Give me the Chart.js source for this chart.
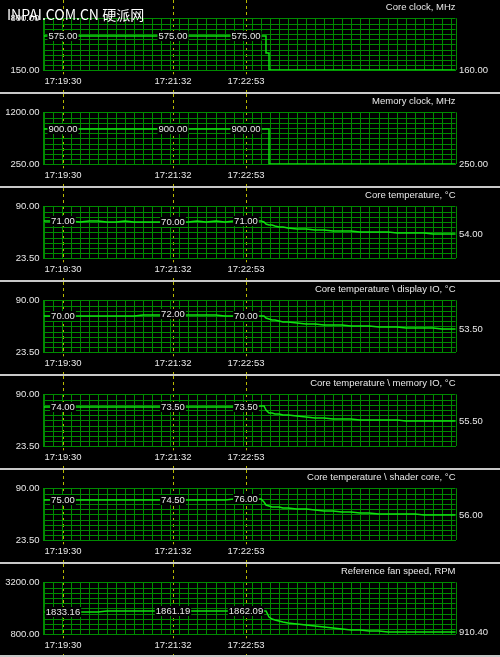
<!DOCTYPE html>
<html>
<head>
<meta charset="utf-8">
<script src="https://cdn.jsdelivr.net/npm/chart.js@4.4.0/dist/chart.umd.min.js"></script>
<style>
  body { margin: 0; background: #000; width: 500px; height: 657px; overflow: hidden; position: relative; }
  .panel { width: 500px; border-bottom: 2px solid #c8c8c8; }
  .panel canvas { display: block; }
  #mark { position: absolute; left: 7px; top: 7px; color: #fff; font: 14px "Noto Sans CJK SC", sans-serif; line-height: 14px; white-space: nowrap; }
</style>
</head>
<body>
<div id="panels"></div>
<div id="mark">INPAI.COM.CN 硬派网</div>
<script>
// seconds since 17:19:09 (left edge of the graphs)
const secs = [0, 10, 20, 21, 30, 40, 50, 60, 70, 80, 90, 100, 110, 120, 130, 140, 143,
  150, 160, 170, 180, 190, 200, 210, 220, 224, 230, 240,
  243, 246, 249, 252, 256, 260, 265, 270,
  280, 290, 300, 310, 320, 330, 340, 350, 360, 370, 380, 390, 400, 410, 420, 430, 440, 450, 455];

const markerSecs = [21, 143, 224];
const markerTimes = ['17:19:30', '17:21:32', '17:22:53'];

const coreClock = [575, 575, 575, 575,
  575, 575, 575, 575, 575, 575, 575, 575, 575, 575, 575, 575,
  575,
  575, 575, 575, 575, 575, 575, 575, 575,
  575,
  575, 575,
  575, 364, 160, 160, 160, 160, 160, 160,
  160, 160, 160, 160, 160, 160, 160, 160, 160, 160, 160, 160, 160, 160, 160, 160, 160, 160,
  160];

const memClock = [900, 900, 900, 900,
  900, 900, 900, 900, 900, 900, 900, 900, 900, 900, 900, 900,
  900,
  900, 900, 900, 900, 900, 900, 900, 900,
  900,
  900, 900,
  900, 900, 250, 250, 250, 250, 250, 250,
  250, 250, 250, 250, 250, 250, 250, 250, 250, 250, 250, 250, 250, 250, 250, 250, 250, 250,
  250];

const coreTemp = [71, 71, 71, 71,
  71, 70.5, 71, 71, 70.5, 70.5, 71, 70.5, 70, 70.5, 70, 70,
  70,
  70.5, 70.5, 71, 70.5, 71, 70.5, 71, 71,
  71,
  71, 71,
  70.5, 68, 66.5, 65.5, 64.8, 64, 63.2, 62.5,
  61.5, 60.5, 59.8, 59.2, 58.7, 58.2, 57.8, 57.5, 57.2, 56.9, 56.6, 56.3, 56, 55.8, 55.6, 55.2, 54.8, 54.3,
  54];

const displayIO = [70, 70, 70, 70,
  70, 70, 70.5, 70.5, 70.5, 70.5, 70.5, 70.5, 71, 71, 71.5, 71.5,
  72,
  71.5, 71.5, 71, 71, 71, 70.5, 70.5, 70,
  70,
  70, 70,
  69.5, 67, 66, 65.2, 64.5, 63.5, 62.8, 62.2,
  61, 60.2, 59.6, 59, 58.6, 58.1, 57.6, 57, 56.5, 56.1, 55.8, 55.4, 55.1, 54.8, 54.5, 54.2, 53.9, 53.7,
  53.5];

const memoryIO = [74, 74, 74, 74,
  74, 73.5, 74, 73.5, 74, 73.5, 73.5, 74, 73.5, 73.5, 74, 73.5,
  73.5,
  73.5, 74, 73.5, 73.5, 74, 73.5, 73.5, 73.5,
  73.5,
  73.5, 75.5,
  75, 70, 66.5, 65.5, 64.8, 64.2, 63.6, 63,
  62, 61, 59.8, 59.2, 58.7, 58.3, 57.9, 57.6, 57.3, 57, 56.8, 56.5, 56.3, 56.1, 56, 55.8, 55.7, 55.6,
  55.5];

const shaderCore = [75, 75, 75, 75,
  75, 75, 74.5, 75, 74.5, 74.5, 75, 74.5, 74.5, 74.5, 74.5, 74.5,
  74.5,
  75, 75, 75.5, 75, 75.5, 75.5, 76, 76,
  76,
  76, 76,
  73, 68.5, 67.5, 66.5, 66, 65.5, 65, 64.5,
  63.8, 63, 62.2, 61.3, 60.5, 59.8, 59.2, 58.6, 58.1, 57.7, 57.4, 57.1, 56.8, 56.5, 56.3, 56.2, 56.1, 56,
  56];

const fanSpeed = [1833.16, 1833.16, 1833.16, 1833.16,
  1833, 1840, 1845, 1850, 1855, 1855, 1858, 1860, 1860, 1861, 1861, 1861,
  1861.19,
  1861, 1861, 1862, 1862, 1862, 1862, 1862, 1862,
  1862.09,
  1862, 1862,
  1862, 1862, 1600, 1520, 1470, 1410, 1360, 1320,
  1270, 1240, 1200, 1130, 1090, 1040, 1010, 985, 960, 940, 920, 905, 900, 900, 900, 900, 905, 910,
  910.4];

const titles = ['Core clock, MHz', 'Memory clock, MHz', 'Core temperature, °C',
  'Core temperature \\ display IO, °C', 'Core temperature \\ memory IO, °C',
  'Core temperature \\ shader core, °C', 'Reference fan speed, RPM'];
const series = [coreClock, memClock, coreTemp, displayIO, memoryIO, shaderCore, fanSpeed];
const yMin = [150, 250, 23.5, 23.5, 23.5, 23.5, 800];
const yMax = [800, 1200, 90, 90, 90, 90, 3200];
const stepped = [true, true, false, false, false, false, false];

const GRID = '#008a00';
const LINE = '#10e010';
const TXT = '#e8e8e8';
const MARK = '#b8b800';
const FAMILY = '"Liberation Sans", Arial, sans-serif';
const FONT = { family: FAMILY, size: 9.5, weight: 'normal' };
const PLOT_TOP = 18.3, PLOT_BOTTOM = 70.3;

// grid every 10 s plus the right edge, and the marker times for the time labels
const gridSecs = [];
for (let s = 0; s <= 450; s += 10) gridSecs.push(s);
gridSecs.push(455);

const markers = {
  id: 'markers',
  beforeDraw(chart) {
    const ctx = chart.ctx, xs = chart.scales.x;
    ctx.save();
    ctx.strokeStyle = MARK;
    ctx.lineWidth = 1;
    ctx.setLineDash([3, 3]);
    markerSecs.forEach(s => {
      const px = Math.round(xs.getPixelForValue(s)) + 0.5;
      ctx.beginPath();
      ctx.moveTo(px, 0);
      ctx.lineTo(px, chart.height);
      ctx.stroke();
    });
    ctx.restore();
  },
  afterDatasetsDraw(chart) {
    const ctx = chart.ctx, xs = chart.scales.x, ys = chart.scales.y;
    const pts = chart.data.datasets[0].data;
    ctx.save();
    ctx.font = '9.5px ' + FAMILY;
    ctx.textBaseline = 'middle';
    markerSecs.forEach(s => {
      const p = pts.find(d => d.x === s);
      const txt = p.y.toFixed(2);
      const w = ctx.measureText(txt).width;
      const px = xs.getPixelForValue(s), py = ys.getPixelForValue(p.y);
      ctx.fillStyle = '#000';
      ctx.fillRect(px - w / 2 - 1, py - 5, w + 2, 10);
      ctx.fillStyle = TXT;
      ctx.textAlign = 'center';
      ctx.fillText(txt, px, py + 0.5);
    });
    const last = pts[pts.length - 1];
    ctx.textAlign = 'left';
    ctx.fillStyle = TXT;
    ctx.fillText(last.y.toFixed(2), chart.chartArea.right + 3.5, ys.getPixelForValue(last.y) + 0.5);
    ctx.restore();
  }
};

const holder = document.getElementById('panels');
series.forEach((vals, k) => {
  const h = k === 6 ? 91 : 92;
  const div = document.createElement('div');
  div.className = 'panel';
  const cv = document.createElement('canvas');
  cv.width = 500;
  cv.height = h;
  div.appendChild(cv);
  holder.appendChild(div);

  new Chart(cv, {
    type: 'line',
    data: {
      datasets: [{
        data: secs.map((s, i) => ({ x: s, y: vals[i] })),
        borderColor: LINE,
        borderWidth: 1.5,
        pointRadius: 0,
        stepped: stepped[k],
        tension: 0
      }]
    },
    options: {
      responsive: false,
      animation: false,
      layout: { padding: { left: 0, right: 44.5, top: 0, bottom: 0 } },
      plugins: {
        legend: { display: false },
        tooltip: { enabled: false },
        title: {
          display: true,
          text: titles[k],
          align: 'end',
          color: TXT,
          font: FONT,
          padding: { top: 1.8, bottom: PLOT_TOP - 1.8 - 11.4 }
        }
      },
      scales: {
        x: {
          type: 'linear',
          min: 0,
          max: 455,
          alignToPixels: true,
          afterBuildTicks: s => {
            s.ticks = gridSecs.concat(markerSecs).sort((a, b) => a - b).map(v => ({ value: v }));
          },
          afterFit: s => { s.height = h - PLOT_BOTTOM; },
          grid: {
            color: c => (c.tick && markerSecs.includes(c.tick.value)) ? 'rgba(0,0,0,0)' : GRID,
            drawTicks: false
          },
          border: { color: GRID },
          ticks: {
            autoSkip: false,
            maxRotation: 0,
            padding: 5,
            color: TXT,
            font: FONT,
            showLabelBackdrop: true,
            backdropColor: c => (c.tick && markerSecs.includes(c.tick.value)) ? '#000' : 'rgba(0,0,0,0)',
            backdropPadding: 1,
            callback: v => {
              const i = markerSecs.indexOf(v);
              return i < 0 ? '' : markerTimes[i];
            }
          }
        },
        y: {
          min: yMin[k],
          max: yMax[k],
          alignToPixels: true,
          afterBuildTicks: s => {
            const t = [];
            for (let i = 0; i <= 10; i++) t.push({ value: yMin[k] + (yMax[k] - yMin[k]) * i / 10 });
            s.ticks = t;
          },
          afterFit: s => { s.width = 43.5; },
          grid: { color: GRID, drawTicks: false },
          border: { color: GRID },
          ticks: {
            autoSkip: false,
            padding: 4,
            color: TXT,
            font: FONT,
            callback: (v, i) => (i === 0 || i === 10) ? Number(v).toFixed(2) : ''
          }
        }
      }
    },
    plugins: [markers]
  });
});
</script>
</body>
</html>
